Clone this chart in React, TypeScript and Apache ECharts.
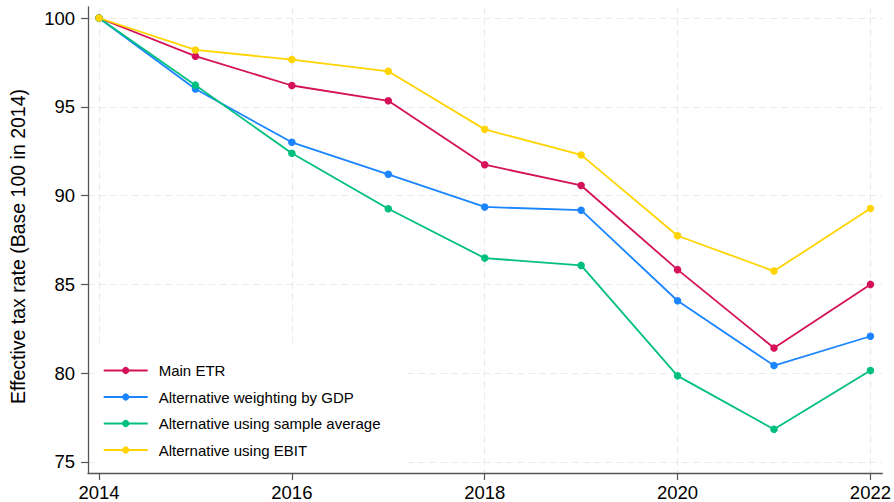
import React, { useEffect, useRef } from "react";
import * as echarts from "echarts";

// Index of the effective tax rate, base 100 in 2014
const years = [2014, 2015, 2016, 2017, 2018, 2019, 2020, 2021, 2022];
const mainEtr = [100, 97.85, 96.2, 95.34, 91.74, 90.57, 85.83, 81.42, 85.0];
const weightingByGdp = [100, 96.0, 93.0, 91.2, 89.36, 89.18, 84.08, 80.43, 82.08];
const sampleAverage = [100, 96.22, 92.38, 89.26, 86.48, 86.07, 79.85, 76.84, 80.15];
const usingEbit = [100, 98.2, 97.66, 97.0, 93.73, 92.29, 87.74, 85.75, 89.27];

const seriesNames = [
  "Main ETR",
  "Alternative weighting by GDP",
  "Alternative using sample average",
  "Alternative using EBIT",
];
const seriesValues = [mainEtr, weightingByGdp, sampleAverage, usingEbit];
const seriesColors = ["#d41159", "#1a85ff", "#00bf7f", "#ffd400"];

const xTicks = [2014, 2016, 2018, 2020, 2022];
const yTicks = [75, 80, 85, 90, 95, 100];

const FONT = 'Arial, "Liberation Sans", Helvetica, sans-serif';

export default function App() {
  const ref = useRef<HTMLDivElement>(null);

  useEffect(() => {
    if (!ref.current) return;
    const chart = echarts.init(ref.current, null, { renderer: "svg" });

    const gridLine = {
      show: true,
      lineStyle: { color: "#ebebeb", width: 1.2, type: [7, 4] as number[] },
    };
    const axisLine = { show: true, lineStyle: { color: "#555555", width: 1.3 } };

    chart.setOption({
      animation: false,
      backgroundColor: "#ffffff",
      textStyle: { fontFamily: FONT },
      grid: { left: 88, right: 11, top: 7, bottom: 28, containLabel: false },
      xAxis: {
        type: "value",
        min: 2013.886,
        max: 2022.124,
        axisLine,
        axisTick: { show: true, length: 7, customValues: xTicks, lineStyle: { color: "#555555", width: 1.2 } },
        axisLabel: {
          customValues: xTicks,
          formatter: (v: number) => String(v),
          color: "#000",
          fontSize: 18.5,
          fontFamily: FONT,
          margin: 10,
        },
        splitLine: gridLine,
      },
      yAxis: {
        type: "value",
        min: 74.38,
        max: 100.62,
        axisLine,
        axisTick: { show: true, length: 7, customValues: yTicks, lineStyle: { color: "#555555", width: 1.2 } },
        axisLabel: {
          customValues: yTicks,
          formatter: (v: number) => String(v),
          color: "#000",
          fontSize: 18.5,
          fontFamily: FONT,
          margin: 13,
        },
        splitLine: gridLine,
      },
      legend: {
        orient: "vertical",
        left: 98,
        top: 347,
        padding: [16, 22, 14, 4.7],
        backgroundColor: "#ffffff",
        itemWidth: 44,
        itemHeight: 9,
        itemGap: 11.5,
        textStyle: { fontSize: 15, color: "#000", fontFamily: FONT, padding: [0, 0, 0, 6] },
        data: seriesNames,
      },
      graphic: [
        {
          type: "text",
          x: 18,
          y: 246.5,
          rotation: Math.PI / 2,
          style: {
            text: "Effective tax rate (Base 100 in 2014)",
            fontSize: 19.5,
            fontFamily: FONT,
            fill: "#000",
            align: "center",
            verticalAlign: "middle",
          },
        },
      ],
      series: seriesNames.map((name, i) => ({
        name,
        type: "line",
        data: years.map((y, j) => [y, seriesValues[i][j]]),
        symbol: "circle",
        symbolSize: 7.5,
        color: seriesColors[i],
        lineStyle: { width: 1.8, color: seriesColors[i] },
        itemStyle: { color: seriesColors[i] },
        z: 2 + i,
      })),
    });

    return () => chart.dispose();
  }, []);

  return <div ref={ref} style={{ width: 894, height: 502, position: "absolute", left: 0, top: 0 }} />;
}
